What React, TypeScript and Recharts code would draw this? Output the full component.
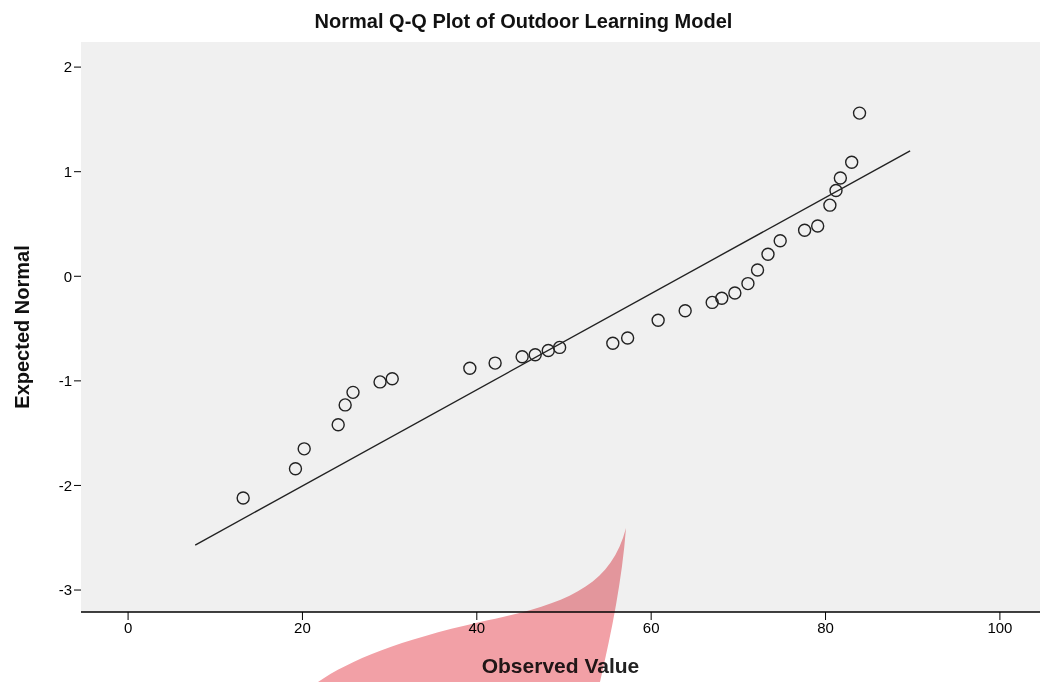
import React from 'react';
import { ScatterChart, Scatter, XAxis, YAxis, CartesianGrid, ReferenceLine } from 'recharts';

const observed = [13.2, 19.2, 20.2, 24.1, 24.9, 25.8, 28.9, 30.3, 39.2, 42.1, 45.2, 46.7, 48.2, 49.5, 55.6, 57.3, 60.8, 63.9, 67.0, 68.1, 69.6, 71.1, 72.2, 73.4, 74.8, 77.6, 79.1, 80.5, 81.2, 81.7, 83.0, 83.9];
const expected = [-2.12, -1.84, -1.65, -1.42, -1.23, -1.11, -1.01, -0.98, -0.88, -0.83, -0.77, -0.75, -0.71, -0.68, -0.64, -0.59, -0.42, -0.33, -0.25, -0.21, -0.16, -0.07, 0.06, 0.21, 0.34, 0.44, 0.48, 0.68, 0.82, 0.94, 1.09, 1.56];
const lineStart = { x: 7.7, y: -2.57 };
const lineEnd = { x: 89.7, y: 1.2 };
const xTicks = [0, 20, 40, 60, 80, 100];
const yTicks = [-3, -2, -1, 0, 1, 2];

const points = observed.map((x, i) => ({ x, y: expected[i] }));

const Dot = (props: any) => {
  const { cx, cy } = props;
  return <circle cx={cx} cy={cy} r={6} fill="none" stroke="#222" strokeWidth={1.4} />;
};

const font = '"Liberation Sans", Arial, sans-serif';

export default function App() {
  return (
    <div style={{ position: 'absolute', left: 0, top: 0, width: 1047, height: 682, background: '#fff', fontFamily: font }}>
      <div style={{ position: 'absolute', left: 0, top: 10, width: 1047, textAlign: 'center', fontSize: 20, fontWeight: 'bold', color: '#111' }}>
        Normal Q-Q Plot of Outdoor Learning Model
      </div>
      <ScatterChart width={1047} height={682} margin={{ top: 42, right: 7, bottom: 0, left: 0 }}>
        <CartesianGrid horizontal={false} vertical={false} fill="#f0f0f0" />
        <XAxis
          xAxisId="top"
          orientation="top"
          type="number"
          dataKey="x"
          domain={[-5.4, 104.6]}
          allowDataOverflow
          height={0}
          tick={false}
          tickLine={false}
          axisLine={{ stroke: '#333', strokeWidth: 2 }}
        />
        <XAxis
          type="number"
          dataKey="x"
          domain={[-5.4, 104.6]}
          allowDataOverflow
          ticks={xTicks}
          height={70}
          tickSize={8}
          axisLine={{ stroke: '#000', strokeWidth: 1.5 }}
          tickLine={{ stroke: '#000' }}
          tick={{ fill: '#000', fontSize: 15, fontFamily: font }}
          label={{ value: 'Observed Value', position: 'insideBottom', offset: 9, fill: '#222', fontSize: 21, fontWeight: 'bold', fontFamily: font }}
        />
        <YAxis
          type="number"
          dataKey="y"
          domain={[-3.21, 2.24]}
          allowDataOverflow
          ticks={yTicks}
          width={81}
          tickSize={7}
          axisLine={false}
          tickLine={{ stroke: '#000' }}
          tick={{ fill: '#000', fontSize: 15, fontFamily: font }}
          label={{ value: 'Expected Normal', angle: -90, position: 'insideLeft', offset: 22, fill: '#111', fontSize: 20, fontWeight: 'bold', fontFamily: font, style: { textAnchor: 'middle' } }}
        />
        <ReferenceLine
          segment={[lineStart, lineEnd]}
          stroke="#222"
          strokeWidth={1.4}
          ifOverflow="visible"
        />
        <Scatter data={points} shape={<Dot />} isAnimationActive={false} />
      </ScatterChart>
      <svg width={1047} height={682} style={{ position: 'absolute', left: 0, top: 0, pointerEvents: 'none', mixBlendMode: 'multiply' }}>
        <path
          d="M 626 528 C 610 590, 560 605, 480 622 C 400 640, 350 660, 318 682 L 600 682 C 612 630, 622 580, 626 528 Z"
          fill="#f2a0a6"
        />
      </svg>
    </div>
  );
}
